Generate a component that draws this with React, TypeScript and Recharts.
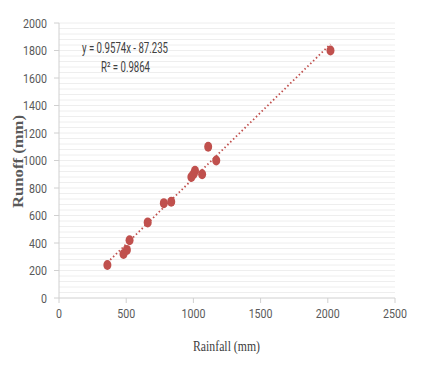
import React from 'react';
import { ScatterChart, Scatter, XAxis, YAxis, ReferenceLine, Label } from 'recharts';

const rainfall = [360, 480, 505, 525, 660, 780, 835, 985, 1000, 1012, 1065, 1110, 1170, 2020];
const runoff = [240, 320, 350, 420, 550, 690, 700, 880, 900, 925, 900, 1100, 1000, 1800];
const xTicks = [0, 500, 1000, 1500, 2000, 2500];
const yTicks = [0, 200, 400, 600, 800, 1000, 1200, 1400, 1600, 1800, 2000];
const slope = 0.9574;
const intercept = -87.235;
const equationText = 'y = 0.9574x - 87.235';
const r2Text = 'R² = 0.9864';

const points = rainfall.map((x, i) => ({ x, y: runoff[i] }));
const xMin = Math.min(...rainfall);
const xMax = Math.max(...rainfall);
const trend = [
  { x: xMin, y: slope * xMin + intercept },
  { x: xMax, y: slope * xMax + intercept },
];
const gridValues: number[] = [];
for (let v = 40; v <= 2000; v += 40) gridValues.push(v);

const sans = 'Roboto, "Liberation Sans", sans-serif';
const serif = '"Liberation Serif", "DejaVu Serif", serif';

const XTick = (p: any) => (
  <text
    x={0}
    y={0}
    transform={`translate(${p.x},${p.y + 13}) scale(0.82,1)`}
    textAnchor="middle"
    fontFamily={sans}
    fontSize={13}
    fill="#595959"
  >
    {p.payload.value}
  </text>
);

const YTick = (p: any) => (
  <text
    x={0}
    y={0}
    transform={`translate(${p.x - 5},${p.y + 4.5}) scale(0.82,1)`}
    textAnchor="end"
    fontFamily={sans}
    fontSize={13}
    fill="#595959"
  >
    {p.payload.value}
  </text>
);

export default function App() {
  return (
    <div style={{ position: 'absolute', left: 0, top: 0, width: 427, height: 366, background: '#fff' }}>
      <ScatterChart width={427} height={366} margin={{ top: 23, right: 32, bottom: 38, left: 0 }}>
        {gridValues.map((v) => (
          <ReferenceLine key={v} y={v} stroke="#eeeeee" strokeWidth={1} />
        ))}
        <XAxis
          type="number"
          dataKey="x"
          domain={[0, 2500]}
          ticks={xTicks}
          height={30}
          stroke="#d0d0d0"
          tickSize={5}
          tick={<XTick />}
        >
          <Label
            content={() => (
              <text x={193} y={351} textLength={67} lengthAdjust="spacingAndGlyphs" fontFamily={serif} fontSize={15} fill="#404040">
                Rainfall (mm)
              </text>
            )}
          />
        </XAxis>
        <YAxis
          type="number"
          dataKey="y"
          domain={[0, 2000]}
          ticks={yTicks}
          width={59}
          stroke="#d0d0d0"
          tickSize={5}
          tick={<YTick />}
        >
          <Label
            content={() => (
              <text
                x={23}
                y={208}
                transform="rotate(-90 23 208)"
                textLength={93}
                lengthAdjust="spacingAndGlyphs"
                fontFamily={serif}
                fontWeight="bold"
                fontSize={14}
                fill="#595959"
              >
                Runoff (mm)
              </text>
            )}
          />
        </YAxis>
        <Scatter
          data={trend}
          line={{ stroke: '#c0504d', strokeWidth: 1.8, strokeDasharray: '1.5 2.5' }}
          shape={() => null}
          isAnimationActive={false}
        />
        <Scatter
          data={points}
          fill="#c0504d"
          isAnimationActive={false}
          shape={(p: any) => <ellipse cx={p.cx} cy={p.cy} rx={4} ry={5} fill="#c0504d" />}
        />
      </ScatterChart>
      <svg width={427} height={366} style={{ position: 'absolute', left: 0, top: 0, pointerEvents: 'none' }}>
        <text x={82} y={53} textLength={86} lengthAdjust="spacingAndGlyphs" fontFamily={sans} fontSize={14} fill="#404040">
          {equationText}
        </text>
        <text x={101} y={72} textLength={49} lengthAdjust="spacingAndGlyphs" fontFamily={sans} fontSize={14} fill="#404040">
          {r2Text}
        </text>
      </svg>
    </div>
  );
}
